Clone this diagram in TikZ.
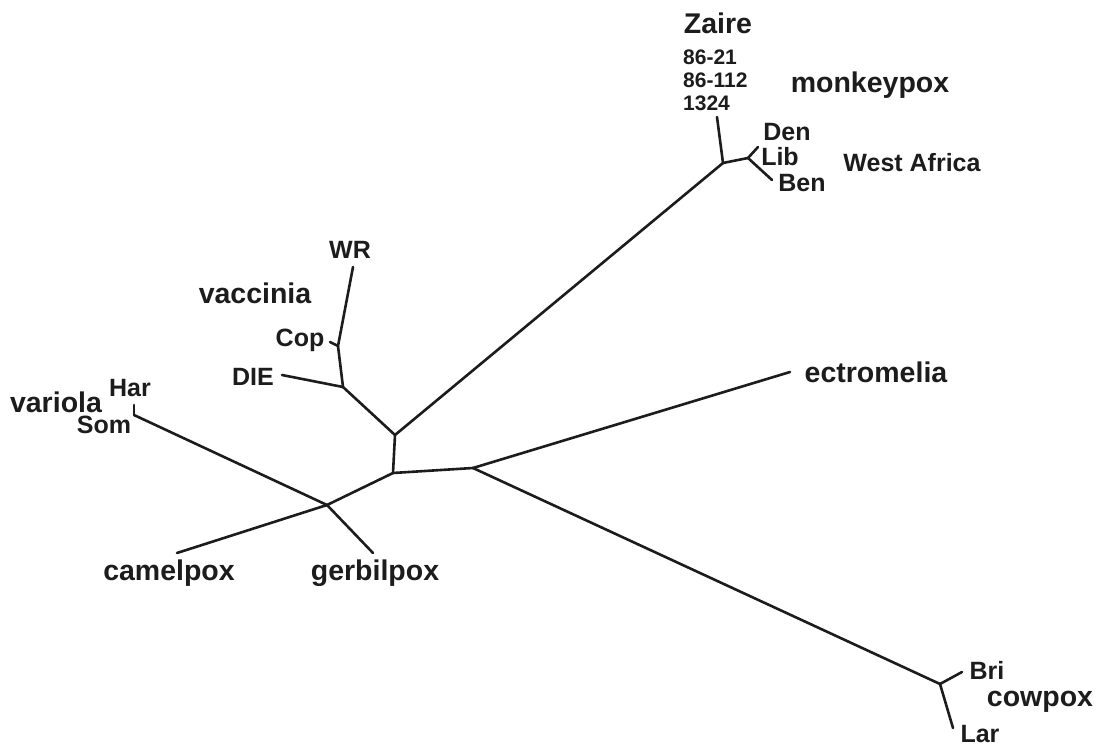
\documentclass[tikz,border=0pt]{standalone}
\usepackage{fontspec}
\setmainfont{Liberation Sans}

\definecolor{ink}{HTML}{1C1C1C}
\tikzset{
  branch/.style = {draw=ink, line width=2.6pt, line cap=round, line join=round},
  taxon/.style  = {text=ink, inner sep=0pt, font=\bfseries\fontsize{28.5}{30}\selectfont},
  strain/.style = {text=ink, inner sep=0pt, font=\bfseries\fontsize{25}{27}\selectfont},
  isolate/.style = {text=ink, inner sep=0pt, align=left, font=\bfseries\fontsize{21}{23}\selectfont}
}

\begin{document}
\begin{tikzpicture}[x=1pt,y=-1pt]
    \useasboundingbox (0,0) rectangle (1100,749);

    % Junctions
    \coordinate (vm)   at (395,435);
    \coordinate (mid)  at (393,473);
    \coordinate (ec)   at (473,468);
    \coordinate (vcg)  at (327,505);
    \coordinate (var)  at (134,415);
    \coordinate (vac)  at (343,387);
    \coordinate (cop)  at (338,346);
    \coordinate (mpx)  at (723,163);
    \coordinate (wa)   at (748,158);
    \coordinate (cow)  at (940,684);

    % Tips
    \coordinate (har)    at (134,405);
    \coordinate (camel)  at (177,553);
    \coordinate (gerbil) at (373,553);
    \coordinate (die)    at (282,375);
    \coordinate (copt)   at (330,342);
    \coordinate (wr)     at (353,267);
    \coordinate (zaire)  at (717,117);
    \coordinate (den)    at (758,147);
    \coordinate (ben)    at (772,180);
    \coordinate (ectro)  at (790,372);
    \coordinate (bri)    at (962,672);
    \coordinate (lar)    at (953,728);

    % Branches
    \foreach \a/\b in {vm/mid, vm/vac, vm/mpx, mid/ec, mid/vcg}
        \draw[branch] (\a) -- (\b);

    % (variola, camelpox, gerbilpox)
    \foreach \b in {var, camel, gerbil} \draw[branch] (vcg) -- (\b);
    \draw[branch] (var) -- (har);

    % (vaccinia)
    \foreach \b in {die, cop} \draw[branch] (vac) -- (\b);
    \foreach \b in {copt, wr} \draw[branch] (cop) -- (\b);

    % (monkeypox)
    \foreach \b in {zaire, wa} \draw[branch] (mpx) -- (\b);
    \foreach \b in {den, ben} \draw[branch] (wa) -- (\b);

    % (ectromelia, cowpox)
    \foreach \b in {ectro, cow} \draw[branch] (ec) -- (\b);
    \foreach \b in {bri, lar} \draw[branch] (cow) -- (\b);

    % Labels
    \node[taxon]  (lzaire)  at (718,23)  {Zaire};
    \node[isolate, anchor=west] (lstr) at (683,80) {86-21\\86-112\\1324};
    \node[taxon]  (lmpx)    at (870,85)  {monkeypox};
    \node[strain] (lden)    at (787,132) {Den};
    \node[strain] (llib)    at (780,157) {Lib};
    \node[strain] (lben)    at (802,183) {Ben};
    \node[strain] (lwa)     at (912,163) {West Africa};

    \node[strain] (lwr)     at (350,250) {WR};
    \node[taxon]  (lvac)    at (255,293) {vaccinia};
    \node[strain] (lcop)    at (300,340) {Cop};
    \node[strain] (ldie)    at (253,377) {DIE};

    \node[taxon]  (lvar)    at (56,402)  {variola};
    \node[strain] (lhar)    at (130,388) {Har};
    \node[strain] (lsom)    at (104,425) {Som};
    \node[taxon]  (lcamel)  at (169,573) {camelpox};
    \node[taxon]  (lgerbil) at (375,573) {gerbilpox};

    \node[taxon]  (lectro)  at (876,372) {ectromelia};
    \node[strain] (lbri)    at (987,670) {Bri};
    \node[taxon]  (lcow)    at (1040,702) {cowpox};
    \node[strain] (llar)    at (980,734) {Lar};
\end{tikzpicture}
\end{document}
